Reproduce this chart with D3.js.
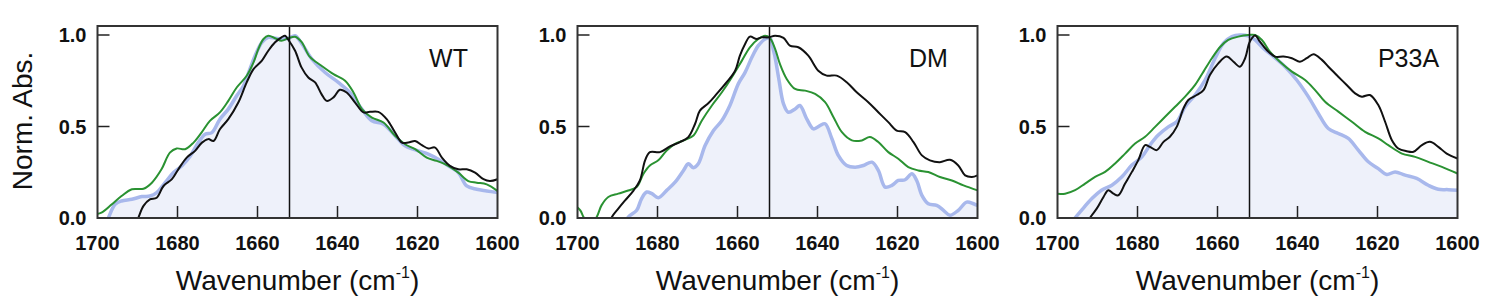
<!DOCTYPE html>
<html>
<head>
<meta charset="utf-8">
<script src="https://cdnjs.cloudflare.com/ajax/libs/d3/7.8.5/d3.min.js"></script>
<style>
    body { margin: 0; background: #fff; }
    text { font-family: "Liberation Sans", Arial, sans-serif; fill: #111; }
</style>
</head>
<body>
<div id="chart"></div>
<script>
const panelNames = ["WT", "DM", "P33A"];
const xTicks = [1700, 1680, 1660, 1640, 1620, 1600];
const yTicks = [0.0, 0.5, 1.0];
const markerWn = 1652;

// [wavenumber, normalized absorbance]
const wtBlue = [[1698.5,-0.06],[1697.3,0],[1695.6,0.075],[1694,0.093],[1691.4,0.102],[1688.9,0.117],[1686.9,0.12],[1685.2,0.139],[1683.1,0.193],[1681,0.248],[1678.9,0.285],[1676.8,0.339],[1674.8,0.412],[1673.1,0.458],[1671.4,0.467],[1669.4,0.54],[1667.3,0.595],[1665.2,0.668],[1663.5,0.723],[1661.9,0.814],[1660.6,0.887],[1658.9,0.96],[1657.3,0.987],[1655.6,0.982],[1654,0.978],[1652.3,0.982],[1650.6,0.996],[1649,0.955],[1646.4,0.868],[1643.1,0.795],[1639.8,0.741],[1636.9,0.686],[1633.9,0.595],[1631.4,0.531],[1628.5,0.513],[1625.6,0.449],[1623.1,0.394],[1619.8,0.367],[1617.3,0.349],[1614.8,0.321],[1612.3,0.285],[1609.8,0.248],[1607.7,0.175],[1605.2,0.157],[1602.7,0.148],[1600,0.139]];
const wtGreen = [[1700.6,0.02],[1699,0.029],[1696.4,0.075],[1694,0.12],[1691.4,0.157],[1688.5,0.16],[1686.4,0.193],[1684,0.266],[1681.9,0.357],[1680.2,0.38],[1678.1,0.376],[1676,0.412],[1674,0.467],[1671.9,0.531],[1669.4,0.577],[1667.3,0.64],[1665.2,0.713],[1662.7,0.777],[1661,0.85],[1659.8,0.923],[1658.5,0.978],[1657.3,0.996],[1655.6,0.982],[1654,0.969],[1652.3,0.982],[1650.6,0.99],[1649,0.962],[1646.9,0.88],[1644,0.832],[1641,0.786],[1638.1,0.75],[1636,0.686],[1633.9,0.595],[1631.4,0.549],[1628.5,0.522],[1625.6,0.449],[1623.1,0.403],[1620.6,0.376],[1617.7,0.33],[1615.2,0.312],[1612.3,0.285],[1609.8,0.248],[1607.3,0.202],[1605.2,0.193],[1602.7,0.184],[1600,0.148]];
const wtBlack = [[1690.8,-0.06],[1689.8,0],[1688.5,0.066],[1686.9,0.102],[1685.2,0.111],[1683.5,0.175],[1681.4,0.212],[1679.8,0.266],[1677.7,0.33],[1675.6,0.367],[1673.9,0.412],[1672.3,0.431],[1671,0.421],[1669.4,0.485],[1667.3,0.54],[1664.8,0.631],[1662.7,0.741],[1661,0.814],[1658.9,0.86],[1657.3,0.914],[1655.6,0.96],[1654,0.987],[1653.1,0.996],[1652.3,0.974],[1650.6,0.914],[1649,0.823],[1647.3,0.768],[1645.6,0.741],[1644,0.677],[1642.7,0.64],[1641,0.659],[1639.4,0.701],[1637.7,0.686],[1635.6,0.631],[1633.5,0.577],[1631.9,0.58],[1629.8,0.58],[1627.7,0.54],[1625.6,0.467],[1623.9,0.412],[1622.3,0.412],[1620.6,0.421],[1618.9,0.398],[1617.3,0.38],[1615.6,0.385],[1613.9,0.33],[1611.9,0.285],[1609.8,0.266],[1607.7,0.266],[1605.6,0.248],[1603.5,0.212],[1601.9,0.202],[1600,0.212]];

const dmBlue = [[1688.5,-0.05],[1687.3,0.005],[1685.2,0.042],[1684,0.105],[1682.7,0.142],[1681.4,0.133],[1679.8,0.111],[1677.7,0.151],[1675.6,0.196],[1673.5,0.26],[1672.3,0.296],[1671,0.275],[1669.8,0.296],[1668.1,0.396],[1666,0.478],[1663.9,0.533],[1661.9,0.615],[1659.8,0.733],[1658.1,0.796],[1656.4,0.878],[1654.8,0.942],[1653.1,0.978],[1651.9,0.984],[1651,0.915],[1650.6,0.878],[1649.6,0.751],[1648.5,0.624],[1647.3,0.578],[1645.6,0.596],[1644.4,0.615],[1642.7,0.542],[1641,0.487],[1639.4,0.505],[1638.1,0.515],[1636.4,0.433],[1634.8,0.342],[1632.7,0.287],[1630.6,0.278],[1628.5,0.287],[1626.4,0.305],[1624.8,0.26],[1623.1,0.169],[1621.4,0.178],[1619.8,0.205],[1618.1,0.209],[1616.4,0.242],[1615.2,0.205],[1613.9,0.124],[1612.3,0.078],[1610.2,0.069],[1608.5,0.042],[1606.9,0.015],[1604.8,0.042],[1602.7,0.087],[1601,0.078],[1600,0.069]];
const dmGreen = [[1700.6,0.069],[1699.3,0.042],[1698.5,0.005],[1697,-0.05],[1695.2,0.005],[1694,0.069],[1692.3,0.115],[1689.8,0.133],[1687.3,0.15],[1685.2,0.169],[1683.5,0.242],[1681.9,0.287],[1679.8,0.315],[1677.7,0.369],[1675.6,0.405],[1673.1,0.427],[1671,0.451],[1668.9,0.533],[1666.4,0.615],[1663.9,0.687],[1661.4,0.769],[1658.9,0.86],[1656.9,0.933],[1654.8,0.978],[1653.1,0.996],[1651.9,0.984],[1650.6,0.924],[1649.4,0.842],[1647.7,0.76],[1645.6,0.705],[1643.1,0.696],[1640.6,0.678],[1638.1,0.633],[1636,0.551],[1633.9,0.469],[1631.4,0.424],[1628.9,0.424],[1626.9,0.442],[1624.8,0.415],[1622.3,0.36],[1619.8,0.324],[1617.3,0.278],[1614.8,0.26],[1612.3,0.251],[1609.4,0.224],[1606.4,0.205],[1603.5,0.178],[1600,0.151]];
const dmBlack = [[1692.5,-0.06],[1691.4,0.005],[1689.8,0.051],[1688.1,0.096],[1686,0.15],[1684.4,0.205],[1683.1,0.315],[1681.9,0.36],[1679.4,0.36],[1676.9,0.391],[1674.4,0.415],[1672.3,0.442],[1670.6,0.515],[1669.4,0.587],[1667.3,0.627],[1665.2,0.678],[1662.7,0.742],[1660.6,0.805],[1659.4,0.887],[1658.1,0.951],[1656.9,0.991],[1655.2,0.978],[1654,0.987],[1652.3,0.987],[1650.6,0.996],[1648.5,0.984],[1646.9,0.942],[1644.8,0.933],[1642.3,0.887],[1639.8,0.805],[1637.7,0.778],[1635.2,0.778],[1632.7,0.742],[1630.2,0.687],[1627.3,0.633],[1624.8,0.578],[1622.3,0.524],[1620.2,0.478],[1618.1,0.469],[1616,0.415],[1613.9,0.342],[1611.9,0.315],[1609.4,0.305],[1606.9,0.318],[1604.8,0.287],[1603.1,0.233],[1601.4,0.224],[1600,0.233]];

const p33aBlue = [[1697,-0.05],[1695.6,0],[1694,0.042],[1691.4,0.106],[1689,0.152],[1686.4,0.179],[1683.9,0.225],[1681.4,0.289],[1678.9,0.334],[1676.9,0.398],[1674.8,0.453],[1672.3,0.498],[1670.2,0.526],[1668.1,0.608],[1665.6,0.672],[1663.1,0.754],[1660.6,0.873],[1658.5,0.955],[1656.4,0.991],[1654.4,1.0],[1652.3,0.995],[1650.6,0.973],[1648.5,0.927],[1646,0.882],[1643.1,0.827],[1640.2,0.754],[1637.3,0.663],[1634.8,0.571],[1632.3,0.489],[1629.8,0.462],[1627.3,0.435],[1624.8,0.371],[1622.3,0.307],[1619.8,0.27],[1617.7,0.238],[1615.6,0.252],[1613.1,0.234],[1610.2,0.216],[1607.3,0.179],[1604.8,0.157],[1602.3,0.155],[1600,0.152]];
const p33aGreen = [[1700.6,0.133],[1698.1,0.133],[1695.6,0.152],[1693.1,0.188],[1690.6,0.225],[1688.1,0.252],[1685.6,0.298],[1683.1,0.352],[1680.6,0.407],[1678.1,0.444],[1675.6,0.498],[1673.1,0.553],[1670.6,0.608],[1668.1,0.663],[1665.6,0.727],[1663.5,0.8],[1661.4,0.873],[1659.3,0.936],[1657.3,0.973],[1654.8,0.991],[1652.3,1.0],[1650.6,1.0],[1648.9,0.973],[1646.9,0.909],[1644.4,0.854],[1641.4,0.8],[1638.1,0.754],[1635.6,0.699],[1633.1,0.635],[1629.8,0.581],[1626.4,0.526],[1623.1,0.471],[1619.8,0.435],[1617.3,0.398],[1613.9,0.352],[1610.6,0.334],[1607.3,0.307],[1603.9,0.279],[1600,0.243]];
const p33aBlack = [[1693,-0.06],[1691.9,0],[1690.2,0.051],[1688.5,0.115],[1687.3,0.152],[1686,0.133],[1684.8,0.124],[1683.1,0.188],[1681.4,0.252],[1679.8,0.316],[1678.1,0.398],[1676.9,0.389],[1675.2,0.371],[1673.5,0.416],[1671.9,0.444],[1670.2,0.498],[1668.5,0.599],[1667.3,0.645],[1665.2,0.672],[1663.5,0.699],[1661.9,0.781],[1659.8,0.845],[1657.7,0.882],[1656,0.854],[1654.4,0.827],[1653.1,0.873],[1651.9,0.964],[1650.6,0.997],[1649.4,0.964],[1647.7,0.918],[1645.6,0.882],[1643.5,0.882],[1641.4,0.873],[1639.4,0.854],[1637.7,0.873],[1636,0.895],[1633.9,0.864],[1631.9,0.818],[1629.8,0.772],[1627.7,0.727],[1625.6,0.681],[1623.9,0.663],[1621.9,0.672],[1619.8,0.617],[1618.1,0.526],[1616.4,0.425],[1614.8,0.38],[1612.7,0.365],[1611,0.362],[1608.9,0.398],[1606.9,0.416],[1604.8,0.389],[1602.7,0.352],[1600,0.325]];

const panels = [
    {name: panelNames[0], blue: wtBlue, green: wtGreen, black: wtBlack},
    {name: panelNames[1], blue: dmBlue, green: dmGreen, black: dmBlack},
    {name: panelNames[2], blue: p33aBlue, green: p33aGreen, black: p33aBlack}
];

const W = 1500, H = 300;
const pw = 400, plotTop = 26, plotBottom = 218, step = 480, left0 = 97.5;

const svg = d3.select("#chart")
    .append("svg")
    .attr("width", W)
    .attr("height", H);

const x = d3.scaleLinear().domain([1700, 1600]).range([0, pw]);
const y = d3.scaleLinear().domain([0, 1]).range([plotBottom, 35]);

const line = d3.line()
    .x(d => x(d[0]))
    .y(d => y(d[1]))
    .curve(d3.curveCatmullRom.alpha(0.5));
const area = d3.area()
    .x(d => x(d[0]))
    .y0(y(0))
    .y1(d => y(d[1]))
    .curve(d3.curveCatmullRom.alpha(0.5));

panels.forEach((p, i) => {
    const g = svg.append("g")
        .attr("transform", "translate(" + (left0 + i * step) + ",0)");

    const clipId = "clip" + i;
    g.append("clipPath").attr("id", clipId)
        .append("rect")
        .attr("x", 0).attr("y", plotTop)
        .attr("width", pw).attr("height", plotBottom - plotTop);

    const plot = g.append("g").attr("clip-path", "url(#" + clipId + ")");

    plot.append("path")
        .attr("d", area(p.blue))
        .attr("fill", "#eef1fa");
    plot.append("path")
        .attr("d", line(p.blue))
        .attr("fill", "none")
        .attr("stroke", "#a8b8ec")
        .attr("stroke-width", 3.5);
    plot.append("path")
        .attr("d", line(p.green))
        .attr("fill", "none")
        .attr("stroke", "#2a9232")
        .attr("stroke-width", 2);
    plot.append("path")
        .attr("d", line(p.black))
        .attr("fill", "none")
        .attr("stroke", "#111")
        .attr("stroke-width", 2);

    // reference line
    g.append("line")
        .attr("x1", x(markerWn)).attr("x2", x(markerWn))
        .attr("y1", plotTop).attr("y2", plotBottom)
        .attr("stroke", "#111")
        .attr("stroke-width", 1.5);

    // inward ticks
    g.selectAll(".xt")
        .data(xTicks.slice(1, -1))
        .join("line")
        .attr("x1", d => x(d)).attr("x2", d => x(d))
        .attr("y1", plotBottom).attr("y2", plotBottom - 12)
        .attr("stroke", "#222").attr("stroke-width", 1.5);
    g.selectAll(".yt")
        .data(yTicks.slice(1))
        .join("line")
        .attr("x1", 0).attr("x2", 12)
        .attr("y1", d => y(d)).attr("y2", d => y(d))
        .attr("stroke", "#222").attr("stroke-width", 1.5);

    g.append("rect")
        .attr("x", 0).attr("y", plotTop)
        .attr("width", pw).attr("height", plotBottom - plotTop)
        .attr("fill", "none")
        .attr("stroke", "#333")
        .attr("stroke-width", 2);

    g.selectAll(".xl")
        .data(xTicks)
        .join("text")
        .attr("x", d => x(d))
        .attr("y", 250)
        .attr("text-anchor", "middle")
        .style("font-size", "20px")
        .style("font-weight", "bold")
        .text(d => d);
    g.selectAll(".yl")
        .data(yTicks)
        .join("text")
        .attr("x", -11)
        .attr("y", d => y(d) + 7)
        .attr("text-anchor", "end")
        .style("font-size", "20px")
        .style("font-weight", "bold")
        .text(d => d.toFixed(1));

    g.append("text")
        .attr("x", 351)
        .attr("y", 67)
        .attr("text-anchor", "middle")
        .style("font-size", "25px")
        .text(p.name);

    const xt = g.append("text")
        .attr("x", pw / 2)
        .attr("y", 290)
        .attr("text-anchor", "middle")
        .style("font-size", "28px");
    xt.append("tspan").text("Wavenumber (cm");
    xt.append("tspan").attr("dy", -12).style("font-size", "16px").text("-1");
    xt.append("tspan").attr("dy", 12).text(")");
});

svg.append("text")
    .attr("transform", "translate(32,121) rotate(-90)")
    .attr("text-anchor", "middle")
    .style("font-size", "28px")
    .text("Norm. Abs.");
</script>
</body>
</html>
